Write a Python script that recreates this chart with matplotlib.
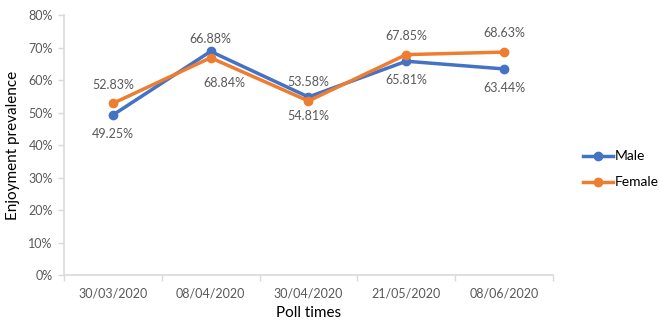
import numpy as np
import matplotlib.pyplot as plt
from matplotlib.lines import Line2D

# poll data
poll_times = ['30/03/2020', '08/04/2020', '30/04/2020', '21/05/2020', '08/06/2020']
male = [49.25, 68.84, 54.81, 65.81, 63.44]
female = [52.83, 66.88, 53.58, 67.85, 68.63]

blue = '#4472C4'
orange = '#ED7D31'
grey_txt = '#595959'
axis_col = '#D9D9D9'

plt.rcParams['font.family'] = ['Lato', 'DejaVu Sans']

fig = plt.figure(figsize=(6.59, 3.29), dpi=100, facecolor='w')
ax = fig.add_axes([0.097, 0.164, 0.742, 0.79])

x = np.arange(len(poll_times))
ax.plot(x, male, '-o', color=blue, lw=2.5, ms=6, zorder=3)
ax.plot(x, female, '-o', color=orange, lw=2.5, ms=6, zorder=4)

# data labels: female above, male below (one male label was nudged off the line)
for xi, v in zip(x, female):
	ax.annotate(f'{v:.2f}%', (xi, v), xytext=(0, 13.5), textcoords='offset points',
				ha='center', va='center', fontsize=9, color=grey_txt)
male_nudge = {1: (10, -23)}
for xi, v in zip(x, male):
	ax.annotate(f'{v:.2f}%', (xi, v), xytext=male_nudge.get(xi, (0, -13.5)),
				textcoords='offset points',
				ha='center', va='center', fontsize=9, color=grey_txt)

ax.set_xlim(-0.5, len(poll_times) - 0.5)
ax.set_ylim(0, 80)
ax.set_yticks(np.arange(0, 81, 10))
ax.set_yticklabels([f'{t}%' for t in range(0, 81, 10)])
ax.set_xticks(x)
ax.set_xticklabels(poll_times)
ax.set_xticks(np.arange(-0.5, len(poll_times)), minor=True)
ax.tick_params(axis='x', which='major', length=0, pad=9, labelsize=9, labelcolor=grey_txt)
ax.tick_params(axis='x', which='minor', length=4, color=axis_col, width=1)
ax.tick_params(axis='y', length=4, color=axis_col, width=1, labelsize=9, labelcolor=grey_txt, pad=4)

for s in ['top', 'right']:
	ax.spines[s].set_visible(False)
for s in ['left', 'bottom']:
	ax.spines[s].set_color(axis_col)
	ax.spines[s].set_linewidth(1.2)

ax.set_xlabel('Poll times', fontsize=11, labelpad=5)
ax.set_ylabel('Enjoyment prevalence', fontsize=11, labelpad=6)

handles = [Line2D([], [], color=blue, lw=2.5, marker='o', ms=6),
		   Line2D([], [], color=orange, lw=2.5, marker='o', ms=6)]
fig.legend(handles, ['Male', 'Female'], loc='center left', bbox_to_anchor=(0.865, 0.485),
		   frameon=False, fontsize=10, handlelength=2.2, handletextpad=0.1, labelspacing=1.0)

fig.savefig('out.png', dpi=100)
